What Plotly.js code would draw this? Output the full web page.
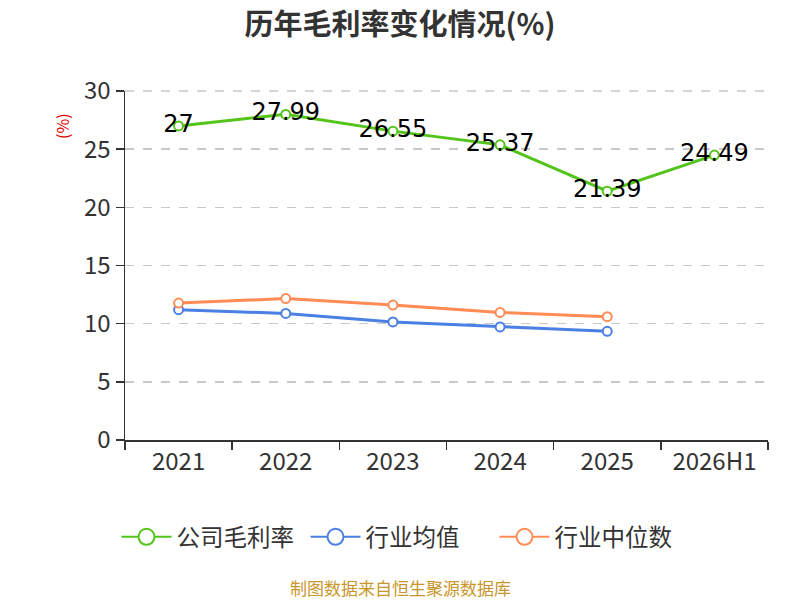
<!DOCTYPE html>
<html>
<head>
<meta charset="utf-8">
<script src="https://cdn.plot.ly/plotly-3.0.1.min.js"></script>
<style>
  html, body { margin: 0; padding: 0; background: #fff; }
  #chart { width: 800px; height: 600px; }
</style>
</head>
<body>
<div id="chart"></div>
<script>
// data
var years = ["2021", "2022", "2023", "2024", "2025", "2026H1"];
var companyMargin = [27, 27.99, 26.55, 25.37, 21.39, 24.49];
var industryAvg = [11.2, 10.88, 10.15, 9.72, 9.34];
var industryMedian = [11.77, 12.16, 11.6, 10.97, 10.6];
var seriesNames = ["公司毛利率", "行业均值", "行业中位数"];
var colors = ["#52c41a", "#4a80e4", "#ff8c55"];

var font = "Noto Sans CJK SC, Noto Sans, sans-serif";

function lineTrace(y, i, withText) {
  var t = {
    x: years.slice(0, y.length),
    y: y,
    type: "scatter",
    mode: withText ? "lines+markers+text" : "lines+markers",
    name: seriesNames[i],
    showlegend: false,
    line: {color: colors[i], width: 3},
    marker: {size: 9, color: "#fff", line: {color: colors[i], width: 2}},
    cliponaxis: false,
    hoverinfo: "x+y"
  };
  if (withText) {
    t.text = y.map(String);
    t.textposition = "middle center";
    t.textfont = {size: 24, color: "#000", family: "DejaVu Sans, sans-serif"};
  }
  return t;
}

// legend-only traces so the legend circles can be drawn larger
function legendTrace(i) {
  return {
    x: [null], y: [null],
    type: "scatter",
    mode: "lines+markers",
    name: seriesNames[i],
    line: {color: colors[i], width: 2},
    marker: {size: 22, color: "#fff", line: {color: colors[i], width: 2}},
    hoverinfo: "skip"
  };
}

var data = [
  lineTrace(industryAvg, 1, false),
  lineTrace(industryMedian, 2, false),
  lineTrace(companyMargin, 0, true),
  legendTrace(0), legendTrace(1), legendTrace(2)
];

var layout = {
  width: 800,
  height: 600,
  margin: {l: 125, r: 32, t: 91, b: 160},
  paper_bgcolor: "#fff",
  plot_bgcolor: "#fff",
  font: {family: font, color: "#333"},
  title: {
    text: "<b>历年毛利率变化情况(%)</b>",
    font: {size: 29, color: "#333", family: font},
    x: 0.5, xanchor: "center",
    y: 0.958, yanchor: "middle"
  },
  xaxis: {
    type: "category",
    range: [-0.5, 5.5],
    tickson: "boundaries",
    ticks: "outside",
    ticklen: 8,
    tickwidth: 1.5,
    tickcolor: "#333",
    showline: true,
    linecolor: "#333",
    linewidth: 1.5,
    showgrid: false,
    tickfont: {size: 24, color: "#333"},
    fixedrange: true
  },
  yaxis: {
    range: [0, 30],
    dtick: 5,
    ticks: "outside",
    ticklen: 8,
    tickwidth: 1.5,
    tickcolor: "#333",
    showline: true,
    linecolor: "#333",
    linewidth: 1.5,
    showgrid: true,
    gridcolor: "#c8c8c8",
    gridwidth: 1.5,
    griddash: "dash",
    zeroline: false,
    tickfont: {size: 24, color: "#333"},
    fixedrange: true
  },
  legend: {
    orientation: "h",
    x: 0.4277, xanchor: "center",
    y: -0.278, yanchor: "middle",
    font: {size: 23.5, color: "#333"},
    itemwidth: 50,
    entrywidth: 124,
    entrywidthmode: "pixels"
  },
  shapes: [
    {
      // dashed grid line along the top edge of the plot
      type: "line", xref: "paper", yref: "paper",
      x0: 0, x1: 1, y0: 1, y1: 1,
      line: {color: "#c8c8c8", width: 1.5, dash: "dash"}
    }
  ],
  annotations: [
    {
      text: "(%)",
      xref: "paper", yref: "paper",
      x: -0.098, y: 0.9,
      xanchor: "center", yanchor: "middle",
      textangle: -90,
      showarrow: false,
      font: {size: 16, color: "#e00000"}
    },
    {
      text: "制图数据来自恒生聚源数据库",
      xref: "paper", yref: "paper",
      x: 0.4277, y: -0.424,
      xanchor: "center", yanchor: "middle",
      showarrow: false,
      font: {size: 17, color: "#c8962a"}
    }
  ]
};

Plotly.newPlot("chart", data, layout, {displayModeBar: false, staticPlot: true});
</script>
</body>
</html>
